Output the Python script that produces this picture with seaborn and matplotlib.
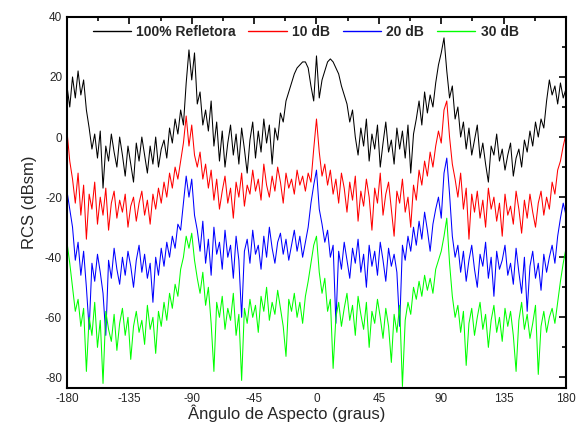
import numpy as np
import matplotlib
matplotlib.use('Agg')
import matplotlib.pyplot as plt
from matplotlib.ticker import MultipleLocator
from matplotlib.lines import Line2D
import pandas as pd
import seaborn as sns

# angulo de aspecto, passo de 2 graus
angulo = np.arange(-180, 181, 2)

series = ['100% Refletora', '10 dB', '20 dB', '30 dB']
cores = ['#000000', '#ff0000', '#0000ff', '#00ff00']

refletora = [
    17, 10, 20, 13, 22, 14, 19, 9, 3, -4,
    1, -7, 2, -17, -3, -8, 1, -5, -10, 0,
    -6, -13, -3, -9, -15, -2, -8, 0, -6, -12,
    -3, -9, 0, -10, -4, -1, -7, 3, -2, 6,
    1, 9, 4, 18, 29, 19, 28, 11, 15, 4,
    9, 2, 12, -3, 5, -8, 2, -10, -2, 4,
    -6, 1, -9, 3, -4, -12, -1, 5, -7, 2,
    -5, 6, -2, 4, -9, 3, -1, 8, 5, 12,
    15, 18, 21, 23, 24, 25, 25, 23, 17, 12,
    27, 13, 19, 22, 25, 26, 25, 23, 21, 17,
    14, 11, 5, 9, 0, -6, 3, -3, 6, -8,
    1, -4, 4, -10, -2, 5, -5, -1, -9, 3,
    -4, 2, -7, 4, -12, 1, 6, 12, 4, 15,
    8, 14, 10, 18, 24, 28, 33, 22, 13, 17,
    6, 10, 0, 5, -4, 3, -6, -1, 4, -7,
    -2, -9, -15, -3, -6, 1, -8, -4, -11, -6,
    -2, -13, -7, -4, -10, -1, -5, 2, -3, 5,
    0, 6, 3, 12, 19, 14, 17, 11, 18, 13,
    16]

db10 = [
    2, -8, -14, -22, -12, -26, -16, -34, -19, -24,
    -15, -29, -20, -26, -17, -31, -22, -18, -27, -21,
    -25, -19, -30, -23, -20, -28, -22, -18, -26, -21,
    -29, -19, -24, -17, -22, -15, -20, -12, -17, -10,
    -14, -8, -2, 7, -3, 4, -6, -10, -5, -14,
    -9, -17, -11, -21, -14, -24, -18, -13, -22, -17,
    -27, -15, -20, -12, -23, -16, -19, -11, -18, -14,
    -21, -9, -16, -20, -13, -18, -10, -15, -22, -12,
    -17, -14, -19, -11, -16, -13, -18, -12, -15, -4,
    6, -5, -13, -9, -16, -11, -19, -14, -22, -12,
    -17, -25, -15, -21, -13, -28, -18, -23, -14, -20,
    -31, -17, -22, -12, -26, -19, -15, -24, -33, -18,
    -22, -14, -25, -20, -30, -16, -21, -11, -16, -8,
    -13, -5, -10, -3, 2, -2, 9, 12, 0, -9,
    -14, -20, -12, -24, -17, -34, -19, -25, -18, -27,
    -21, -30, -17, -24, -20, -28, -22, -33, -19, -26,
    -23, -29, -18, -24, -32, -21, -27, -19, -25, -30,
    -22, -18, -26, -20, -24, -15, -19, -11, -8, -3,
    1]

db20 = [
    -18, -24, -30, -41, -35, -46, -38, -50, -64, -42,
    -48, -39, -45, -52, -66, -41, -47, -37, -44, -49,
    -40, -46, -38, -43, -50, -41, -36, -45, -39, -47,
    -42, -55, -40, -46, -37, -43, -35, -40, -33, -37,
    -29, -31, -22, -13, -20, -14, -26, -31, -38, -28,
    -42, -34, -46, -30, -39, -35, -44, -31, -40, -36,
    -47, -33, -41, -60, -38, -34, -42, -31, -39, -36,
    -44, -33, -40, -30, -37, -42, -35, -32, -39, -34,
    -41, -36, -31, -38, -33, -40, -35, -30, -22, -16,
    -11, -24, -29, -35, -31, -40, -36, -62, -38, -44,
    -35, -41, -47, -37, -42, -34, -45, -39, -50, -36,
    -43, -38, -46, -35, -41, -48, -37, -43, -39, -45,
    -63, -36, -41, -33, -38, -30, -36, -28, -34, -25,
    -31, -38, -29, -24, -20, -27, -12, -7, -19, -33,
    -40, -36, -45, -38, -48, -41, -36, -44, -50, -39,
    -43, -35, -47, -40, -53, -38, -44, -41, -36, -46,
    -42, -49, -37, -45, -52, -40, -58, -43, -38, -47,
    -42, -51, -39, -45, -40, -36, -42, -33, -27, -22,
    -26]

db30 = [
    -35, -42, -50, -58, -54, -63, -57, -78, -60, -66,
    -55, -70, -61, -82, -58, -64, -68, -59, -71, -62,
    -57, -66, -60, -74, -63, -58, -65, -61, -69, -56,
    -64, -60, -72, -58, -63, -55, -61, -52, -57, -49,
    -53, -44, -40, -33, -37, -32, -41, -47, -52, -45,
    -56, -50, -62, -78, -55, -60, -53, -64, -57, -61,
    -52, -66, -59, -81, -57, -62, -54, -60, -56, -65,
    -53, -58, -50, -61, -55, -59, -51, -57, -63, -73,
    -54, -58, -52, -60, -55, -62, -53, -48, -42, -36,
    -33, -45, -52, -47, -58, -54, -77, -60, -55, -63,
    -57, -52, -61, -56, -66, -53, -59, -64, -55, -70,
    -58, -62, -54, -60, -67, -57, -63, -75, -59, -65,
    -56, -83, -61, -55, -59, -50, -54, -48, -53, -46,
    -51, -47, -52, -44, -41, -38, -33, -27, -42, -53,
    -60, -56, -65, -58, -76, -62, -57, -66, -60, -55,
    -64, -59, -70, -61, -56, -65, -60, -68, -57, -63,
    -58, -66, -78, -61, -55, -64, -59, -67, -62, -56,
    -79, -63, -58, -65, -60, -57, -62, -55, -48, -42,
    -37]

df = pd.concat([
    pd.DataFrame({'angulo': angulo, 'rcs': v, 'serie': s})
    for s, v in zip(series, [refletora, db10, db20, db30])
])

sns.set_style('white')
plt.rcParams['font.family'] = ['Liberation Sans', 'DejaVu Sans']
plt.rcParams['axes.unicode_minus'] = False

fig = plt.figure(figsize=(5.85, 4.32), dpi=100)
ax = fig.add_axes([0.1145, 0.102, 0.853, 0.859])

sns.lineplot(data=df, x='angulo', y='rcs', hue='serie', hue_order=series,
             palette=cores, linewidth=0.75, estimator=None, sort=False,
             legend=False, ax=ax)

ax.set_xlim(-180, 180)
ax.set_ylim(-83.5, 40)
ax.xaxis.set_major_locator(MultipleLocator(45))
ax.xaxis.set_minor_locator(MultipleLocator(22.5))
ax.yaxis.set_major_locator(MultipleLocator(20))
ax.yaxis.set_minor_locator(MultipleLocator(10))
ax.tick_params(which='both', direction='in', top=True, right=True,
               labelsize=8.5, width=1.2, color='black')
ax.tick_params(which='major', length=5)
ax.tick_params(which='minor', length=3)
for sp in ax.spines.values():
    sp.set_linewidth(1.5)
    sp.set_color('black')

ax.set_xlabel('Ângulo de Aspecto (graus)', fontsize=12)
ax.xaxis.set_label_coords(0.44, -0.045)
ax.set_ylabel('RCS (dBsm)', fontsize=12, labelpad=6)

handles = [Line2D([], [], color=c, linewidth=1.0) for c in cores]
ax.legend(handles, series, loc='upper center', bbox_to_anchor=(0.478, 1.012),
          ncol=4, frameon=False, handlelength=2.75, columnspacing=0.9,
          handletextpad=0.4, prop={'weight': 'bold', 'size': 10})

fig.savefig('out.png', dpi=100)
